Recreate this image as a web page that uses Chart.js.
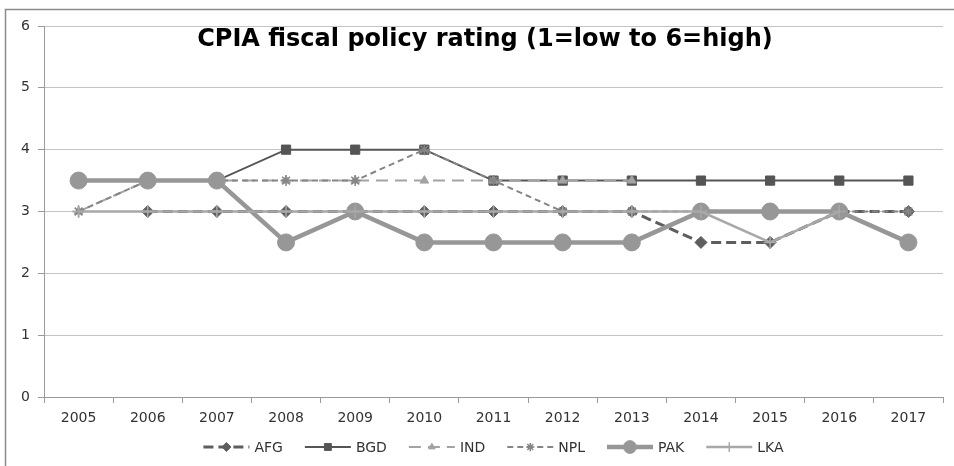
<!DOCTYPE html>
<html>
<head>
<meta charset="utf-8">
<script src="https://cdn.jsdelivr.net/npm/chart.js@4.4.1/dist/chart.umd.min.js"></script>
<style>
  html, body { margin: 0; padding: 0; background: #fff; }
  #wrap { width: 954px; height: 466px; position: relative; }
</style>
</head>
<body>
<div id="wrap"><canvas id="cpiaChart"></canvas></div>
<script>
// data
const years = ['2005', '2006', '2007', '2008', '2009', '2010', '2011', '2012', '2013', '2014', '2015', '2016', '2017'];
const afg = [null, 3, 3, 3, 3, 3, 3, 3, 3, 2.5, 2.5, 3, 3];
const bgd = [3.5, 3.5, 3.5, 4, 4, 4, 3.5, 3.5, 3.5, 3.5, 3.5, 3.5, 3.5];
const ind = [3, 3.5, 3.5, 3.5, 3.5, 3.5, 3.5, 3.5, 3.5, null, null, null, null];
const npl = [3, 3.5, 3.5, 3.5, 3.5, 4, 3.5, 3, 3, 3, 3, 3, 3];
const pak = [3.5, 3.5, 3.5, 2.5, 3, 2.5, 2.5, 2.5, 2.5, 3, 3, 3, 2.5];
const lka = [3, 3, 3, 3, 3, 3, 3, 3, 3, 3, 2.5, 3, null];
const yTicks = [0, 1, 2, 3, 4, 5, 6];
const chartTitle = 'CPIA fiscal policy rating (1=low to 6=high)';

const FONT = "'DejaVu Sans', sans-serif";

function series(label, values, color, width, dash, style, radius, order) {
    return {
        label: label,
        data: values,
        borderColor: color,
        backgroundColor: color,
        borderWidth: width,
        borderDash: dash,
        pointStyle: style,
        pointRadius: radius,
        pointHoverRadius: radius,
        pointBackgroundColor: color,
        pointBorderColor: color,
        pointBorderWidth: style === 'star' || style === 'cross' ? 1.5 : 1,
        tension: 0,
        fill: false,
        order: order
    };
}

const datasets = [
    series('AFG', afg, '#5e5e5e', 3, [10, 5], 'rectRot', 6, 5),
    series('BGD', bgd, '#555555', 2, [], 'rect', 6.5, 4),
    series('IND', ind, '#a3a3a3', 2, [12, 7], 'triangle', 5, 3),
    series('NPL', npl, '#858585', 2, [6, 4], 'star', 5.5, 2),
    series('PAK', pak, '#979797', 4.5, [], 'circle', 8.5, 1),
    series('LKA', lka, '#a8a8a8', 2.5, [], 'cross', 6.5, 0)
];

// frame, title and line-style legend
const decor = {
    id: 'decor',
    beforeDraw(chart) {
        const ctx = chart.ctx;
        ctx.save();
        ctx.strokeStyle = '#8a8a8a';
        ctx.lineWidth = 1.5;
        ctx.beginPath();
        ctx.moveTo(5.5, 466);
        ctx.lineTo(5.5, 9.5);
        ctx.lineTo(954, 9.5);
        ctx.stroke();
        ctx.restore();
    },
    afterDraw(chart) {
        const ctx = chart.ctx;
        const area = chart.chartArea;
        ctx.save();
        ctx.fillStyle = '#000';
        ctx.font = 'bold 24px ' + FONT;
        ctx.textAlign = 'center';
        ctx.textBaseline = 'alphabetic';
        ctx.fillText(chartTitle, 485, 46);

        ctx.font = '14px ' + FONT;
        ctx.textAlign = 'left';
        ctx.textBaseline = 'middle';
        const sampleW = 46, gapText = 5, gapItem = 22, y = 447;
        const widths = datasets.map(d => sampleW + gapText + ctx.measureText(d.label).width);
        const total = widths.reduce((a, b) => a + b, 0) + gapItem * (datasets.length - 1);
        let x = (area.left + area.right) / 2 - total / 2;
        datasets.forEach((d, i) => {
            ctx.strokeStyle = d.borderColor;
            ctx.lineWidth = d.borderWidth;
            ctx.setLineDash(d.borderDash);
            ctx.beginPath();
            ctx.moveTo(x, y);
            ctx.lineTo(x + sampleW, y);
            ctx.stroke();
            ctx.setLineDash([]);
            ctx.fillStyle = d.borderColor;
            ctx.strokeStyle = d.borderColor;
            ctx.lineWidth = d.pointBorderWidth;
            Chart.helpers.drawPoint(ctx, {
                pointStyle: d.pointStyle,
                radius: d.pointRadius * 0.75,
                rotation: 0,
                borderWidth: d.pointBorderWidth
            }, x + sampleW / 2, y);
            ctx.fillStyle = '#333';
            ctx.fillText(d.label, x + sampleW + gapText, y + 1);
            x += widths[i] + gapItem;
        });
        ctx.restore();
    }
};

const config = {
    type: 'line',
    data: { labels: years, datasets: datasets },
    options: {
        responsive: true,
        maintainAspectRatio: false,
        animation: false,
        events: [],
        layout: { padding: { left: 0, right: 11, top: 26, bottom: 39 } },
        plugins: {
            legend: { display: false },
            title: { display: false },
            tooltip: { enabled: false }
        },
        scales: {
            x: {
                offset: true,
                afterFit: (s) => { s.height = 30; },
                grid: {
                    offset: true,
                    drawOnChartArea: false,
                    drawTicks: true,
                    tickLength: 6,
                    tickColor: '#9a9a9a'
                },
                border: { color: '#9a9a9a', width: 1 },
                ticks: {
                    color: '#333',
                    padding: 7,
                    maxRotation: 0,
                    font: { family: FONT, size: 14 }
                }
            },
            y: {
                min: 0,
                max: 6,
                afterFit: (s) => { s.width = 44; },
                afterBuildTicks: (s) => { s.ticks = yTicks.map(v => ({ value: v })); },
                grid: {
                    color: '#c4c4c4',
                    tickColor: '#9a9a9a',
                    tickLength: 6
                },
                border: { color: '#9a9a9a', width: 1 },
                ticks: {
                    color: '#333',
                    padding: 8,
                    font: { family: FONT, size: 14 }
                }
            }
        }
    },
    plugins: [decor]
};

const cpiaChart = new Chart(document.getElementById('cpiaChart'), config);
</script>
</body>
</html>
